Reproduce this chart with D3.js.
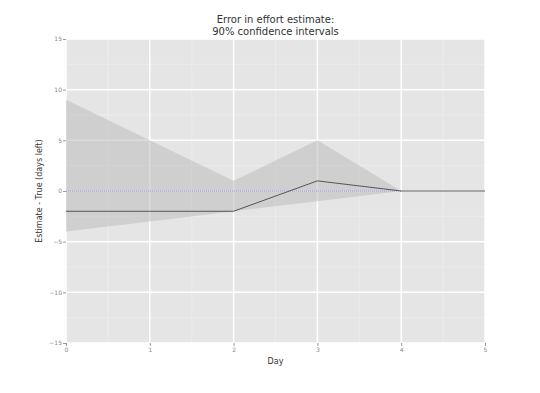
<!DOCTYPE html>
<html>
<head>
<meta charset="utf-8">
<script src="https://cdn.jsdelivr.net/npm/d3@7"></script>
<style>
  body { margin: 0; background: #fff; }
  text { font-family: "DejaVu Sans", sans-serif; }
</style>
</head>
<body>
<div id="chart"></div>
<script>
// data
const days = [0, 1, 2, 3, 4, 5];
const upper = [9, 5, 1, 5, 0, 0];
const lower = [-4, -3, -2, -1, 0, 0];
const estimate = [-2, -2, -2, 1, 0, 0];
const zeroLine = [0, 4];
const xTicks = [0, 1, 2, 3, 4, 5];
const yTicks = [-15, -10, -5, 0, 5, 10, 15];

const width = 540, height = 393;
const margin = { top: 39, right: 55, bottom: 50, left: 66 };
const w = width - margin.left - margin.right;
const h = height - margin.top - margin.bottom;

const svg = d3.select('#chart').append('svg')
  .attr('width', width).attr('height', height);

const g = svg.append('g')
  .attr('transform', `translate(${margin.left},${margin.top})`);

const x = d3.scaleLinear().domain([0, 5]).range([0, w]);
const y = d3.scaleLinear().domain([-15, 15]).range([h, 0]);

// panel
g.append('rect').attr('width', w).attr('height', h).attr('fill', '#e5e5e5');

// minor grid
const xMinor = d3.range(0.5, 5, 1);
const yMinor = d3.range(-12.5, 15, 5);
g.selectAll('.xminor').data(xMinor).enter().append('line')
  .attr('x1', d => x(d)).attr('x2', d => x(d)).attr('y1', 0).attr('y2', h)
  .attr('stroke', '#ececec').attr('stroke-width', 1);
g.selectAll('.yminor').data(yMinor).enter().append('line')
  .attr('y1', d => y(d)).attr('y2', d => y(d)).attr('x1', 0).attr('x2', w)
  .attr('stroke', '#ececec').attr('stroke-width', 1);

// major grid
g.selectAll('.xmajor').data(xTicks).enter().append('line')
  .attr('x1', d => x(d)).attr('x2', d => x(d)).attr('y1', 0).attr('y2', h)
  .attr('stroke', '#fff').attr('stroke-width', 1.5);
g.selectAll('.ymajor').data(yTicks).enter().append('line')
  .attr('y1', d => y(d)).attr('y2', d => y(d)).attr('x1', 0).attr('x2', w)
  .attr('stroke', '#fff').attr('stroke-width', 1.5);

// confidence band
const area = d3.area()
  .x((d, i) => x(days[i]))
  .y0((d, i) => y(lower[i]))
  .y1((d, i) => y(upper[i]));
g.append('path').datum(days).attr('d', area)
  .attr('fill', '#bdbdbd').attr('fill-opacity', 0.55);

// zero reference
g.append('line')
  .attr('x1', x(zeroLine[0])).attr('x2', x(zeroLine[1]))
  .attr('y1', y(0)).attr('y2', y(0))
  .attr('stroke', '#8f8fd8').attr('stroke-width', 1.2)
  .attr('stroke-dasharray', '1,1');

// estimate line
const line = d3.line().x((d, i) => x(days[i])).y(d => y(d));
g.append('path').datum(estimate).attr('d', line)
  .attr('fill', 'none').attr('stroke', '#555').attr('stroke-width', 1);

// axes
const xAxis = g.append('g').attr('transform', `translate(0,${h})`)
  .call(d3.axisBottom(x).tickValues(xTicks).tickSize(3).tickPadding(2)
    .tickFormat(d3.format('d')));
const yAxis = g.append('g')
  .call(d3.axisLeft(y).tickValues(yTicks).tickSize(3).tickPadding(1)
    .tickFormat(d => d < 0 ? '\u2212' + Math.abs(d) : d));
[xAxis, yAxis].forEach(a => {
  a.select('.domain').remove();
  a.selectAll('line').attr('stroke', '#999');
  a.selectAll('text').attr('fill', '#888').style('font-size', '6px');
});

// labels
svg.append('text').attr('x', margin.left + w / 2).attr('y', 23)
  .attr('text-anchor', 'middle').attr('fill', '#333').style('font-size', '10px')
  .text('Error in effort estimate:');
svg.append('text').attr('x', margin.left + w / 2).attr('y', 35)
  .attr('text-anchor', 'middle').attr('fill', '#333').style('font-size', '10px')
  .text('90% confidence intervals');
svg.append('text').attr('x', margin.left + w / 2).attr('y', 364)
  .attr('text-anchor', 'middle').attr('fill', '#333').style('font-size', '8px')
  .text('Day');
svg.append('text')
  .attr('transform', `translate(42,${margin.top + h / 2}) rotate(-90)`)
  .attr('text-anchor', 'middle').attr('fill', '#333').style('font-size', '8px')
  .text('Estimate - True (days left)');
</script>
</body>
</html>
